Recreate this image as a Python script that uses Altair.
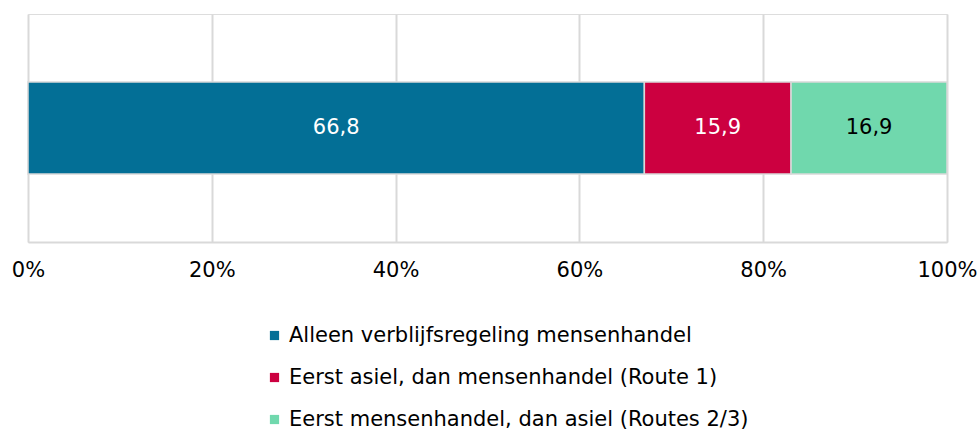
import altair as alt
import pandas as pd

categories = [
    "Alleen verblijfsregeling mensenhandel",
    "Eerst asiel, dan mensenhandel (Route 1)",
    "Eerst mensenhandel, dan asiel (Routes 2/3)",
]
values = [66.8, 15.9, 16.9]
colors = ["#036f96", "#cc0040", "#70d8ad"]
label_colors = ["white", "white", "black"]
tick_values = [0, 0.2, 0.4, 0.6, 0.8, 1.0]

df = pd.DataFrame({
    "cat": categories,
    "value": values,
    "order": list(range(len(categories))),
    "label": [f"{v:.1f}".replace(".", ",") for v in values],
    "lcolor": label_colors,
    "row": ["r"] * len(categories),
})

FONT = "DejaVu Sans"

base = alt.Chart(df).transform_stack(
    stack="value", groupby=["row"], as_=["x0", "x1"], offset="normalize",
    sort=[alt.SortField("order", order="ascending")],
).transform_calculate(mid="(datum.x0 + datum.x1) / 2")

bars = base.mark_bar(size=92, stroke="#d9d9d9", strokeWidth=1.5).encode(
    x=alt.X("x0:Q", scale=alt.Scale(domain=[0, 1], nice=False),
            axis=alt.Axis(values=tick_values, format=".0%", title=None,
                          grid=True, gridColor="#d9d9d9", gridWidth=2,
                          domainColor="#d9d9d9", domainWidth=2, ticks=False,
                          labelFontSize=21, labelFont=FONT, labelColor="#000000",
                          labelPadding=17, labelFlush=False)),
    x2="x1:Q",
    y=alt.Y("row:N", axis=None),
    color=alt.Color("cat:N", scale=alt.Scale(domain=categories, range=colors),
                    legend=alt.Legend(title=None, orient="none", legendX=236, legendY=311,
                                      direction="vertical", symbolType="square",
                                      symbolSize=85, symbolStrokeWidth=0,
                                      labelFontSize=21, labelFont=FONT,
                                      labelColor="#000000", rowPadding=20,
                                      labelOffset=4, labelLimit=700)),
)

text = base.mark_text(fontSize=21, font=FONT).encode(
    x="mid:Q",
    y=alt.Y("row:N", axis=None),
    text="label:N",
    color=alt.Color("lcolor:N", scale=None),
)

chart = (bars + text).properties(
    width=919, height=228,
    autosize=alt.AutoSizeParams(type="none"),
    padding={"left": 28, "top": 14, "right": 33, "bottom": 190},
).configure_view(stroke=None).configure(background="white")

chart.save("out.html", embed_options={"renderer": "svg", "actions": False})
